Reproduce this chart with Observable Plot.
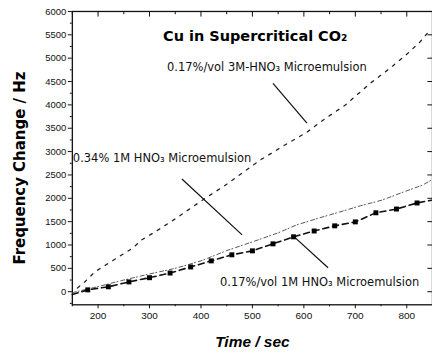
<!DOCTYPE html>
<html><head><meta charset="utf-8">
<script src="https://cdn.jsdelivr.net/npm/d3@7"></script>
<script src="https://cdn.jsdelivr.net/npm/@observablehq/plot@0.6"></script>
<style>html,body{margin:0;padding:0;background:#fff;overflow:hidden}</style>
</head><body><div id="chart"></div>
<script>
// Series 1: 0.17%/vol 3M-HNO3 Microemulsion
const s1Time  = [160, 175, 194, 237, 268, 285, 314, 350, 412, 450, 515, 560, 606, 637, 680, 709, 729, 767, 802, 825, 845];
const s1Value = [80, 220, 427, 726, 939, 1110, 1302, 1560, 2028, 2300, 2818, 3120, 3416, 3672, 3993, 4270, 4462, 4782, 5103, 5338, 5600];
// Series 2: 0.34% 1M HNO3 Microemulsion
const s2Time  = [150, 200, 250, 300, 350, 400, 450, 500, 550, 586, 630, 670, 710, 753, 790, 831, 848];
const s2Value = [-20, 110, 250, 380, 500, 660, 880, 1067, 1260, 1430, 1580, 1708, 1840, 1964, 2120, 2284, 2391];
// Series 3: 0.17%/vol 1M HNO3 Microemulsion (square markers)
const s3Time  = [180, 220, 260, 300, 340, 380, 420, 460, 500, 540, 580, 620, 660, 700, 740, 780, 820];
const s3Value = [40, 105, 210, 300, 400, 530, 660, 790, 875, 1025, 1175, 1300, 1410, 1495, 1690, 1770, 1900];
const s3EndsTime  = [150, 848];
const s3EndsValue = [-60, 1960];

const xMajor = [200, 300, 400, 500, 600, 700, 800];
const xMinor = [150, 250, 350, 450, 550, 650, 750, 850];
const yMajor = [0, 500, 1000, 1500, 2000, 2500, 3000, 3500, 4000, 4500, 5000, 5500, 6000];
const yMinor = [-250, 250, 750, 1250, 1750, 2250, 2750, 3250, 3750, 4250, 4750, 5250, 5750];

const titleText = "Cu in Supercritical CO₂";
const labelTexts = ["0.17%/vol 3M-HNO₃ Microemulsion", "0.34% 1M HNO₃ Microemulsion", "0.17%/vol 1M HNO₃ Microemulsion"];
const labelTime  = [334, 151, 437];
const labelValue = [4804, 2861, 192];
const arrowFromTime  = [540, 363, 577];
const arrowFromValue = [4462, 2413, 1217];
const arrowToTime    = [606, 480, 647];
const arrowToValue   = [3608, 1217, 512];

const zip = (t, v) => t.map((d, i) => ({t: d, v: v[i]}));
const s1 = zip(s1Time, s1Value);
const s2 = zip(s2Time, s2Value);
const s3 = zip(s3Time, s3Value);
const s3Line = [ {t: s3EndsTime[0], v: s3EndsValue[0]}, ...s3, {t: s3EndsTime[1], v: s3EndsValue[1]} ];
const labels = labelTexts.map((s, i) => ({s, t: labelTime[i], v: labelValue[i]}));
const arrows = arrowFromTime.map((d, i) => ({t1: d, v1: arrowFromValue[i], t2: arrowToTime[i], v2: arrowToValue[i]}));

const wide = "'DejaVu Sans', Arial, sans-serif";

const chart = Plot.plot({
  width: 433, height: 356,
  marginLeft: 72, marginRight: 0, marginTop: 11, marginBottom: 51,
  style: {fontFamily: "'Liberation Sans', Arial, sans-serif", background: "#fff", color: "#111"},
  x: {domain: [150, 850]},
  y: {domain: [-280, 6000]},
  marks: [
    Plot.frame({stroke: "#111", strokeWidth: 1.3}),
    Plot.axisY({ticks: yMajor, tickSize: 4, tickPadding: 2, fontSize: 9.5, tickFormat: d => String(d), label: null}),
    Plot.axisY({ticks: yMinor, tickSize: 2, tickFormat: () => "", label: null}),
    Plot.axisX({ticks: xMajor, tickSize: 4, tickPadding: 3, fontSize: 10, tickFormat: d => String(d), label: null}),
    Plot.axisX({ticks: xMinor, tickSize: 2, tickFormat: () => "", label: null}),
    Plot.ruleX(xMajor, {x: d => d, y1: 6000, y2: 5880, stroke: "#111"}),
    Plot.ruleX(xMinor, {x: d => d, y1: 6000, y2: 5930, stroke: "#111"}),
    Plot.ruleY(yMajor, {y: d => d, x1: 850, x2: 841, stroke: "#111"}),
    Plot.line(s1, {x: "t", y: "v", stroke: "#222", strokeWidth: 1.3, strokeDasharray: "3,6"}),
    Plot.line(s2, {x: "t", y: "v", stroke: "#444", strokeWidth: 0.9, strokeDasharray: "4,2,1,3"}),
    Plot.line(s3Line, {x: "t", y: "v", stroke: "#111", strokeWidth: 1.6, strokeDasharray: "6,4"}),
    Plot.dot(s3, {x: "t", y: "v", symbol: "square", r: 2.8, fill: "#000", stroke: "none"}),
    Plot.link(arrows, {x1: "t1", y1: "v1", x2: "t2", y2: "v2", stroke: "#111", strokeWidth: 1.2}),
    Plot.text(labels, {x: "t", y: "v", text: "s", textAnchor: "start", fontSize: 11.5, fontFamily: wide, fill: "#111"}),
    Plot.text([titleText], {frameAnchor: "top-left", dx: 91, dy: 19, textAnchor: "start", fontSize: 14.5, fontWeight: "bold", fontFamily: wide, fill: "#000"}),
    Plot.text(["Frequency Change / Hz"], {frameAnchor: "left", textAnchor: "middle", rotate: -90, dx: -52, dy: 10, fontSize: 15, fontWeight: "bold", fontFamily: wide, fill: "#000"}),
    Plot.text(["Time / sec"], {frameAnchor: "bottom", textAnchor: "middle", dy: 42, fontSize: 15.5, fontWeight: "bold", fontStyle: "italic", fill: "#000"})
  ]
});
document.getElementById("chart").append(chart);
</script>
</body></html>
